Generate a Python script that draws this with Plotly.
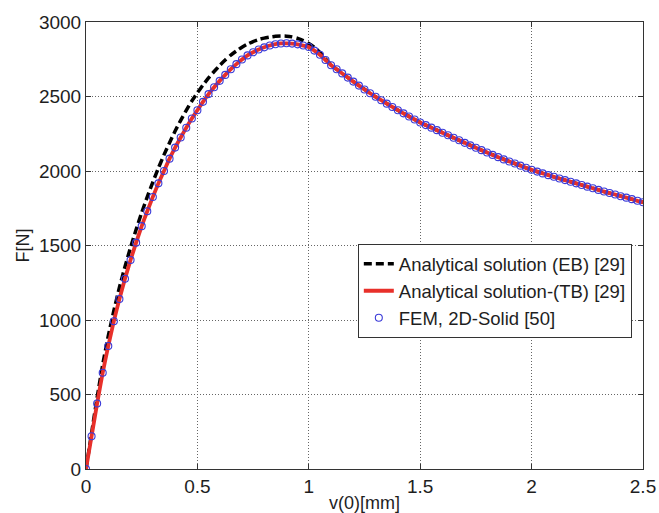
import plotly.graph_objects as go

# FEM sample positions (every 0.025 mm) and forces
fem_v = [round(i * 0.025, 3) for i in range(101)]
fem_force = [
    0, 220, 440, 646, 826, 992, 1141, 1277, 1403, 1519,
    1630, 1730, 1826, 1917, 2000, 2083, 2157, 2225, 2290, 2352,
    2408, 2464, 2516, 2562, 2605, 2645, 2683, 2717, 2748, 2776,
    2797, 2815, 2830, 2842, 2851, 2856, 2857, 2855, 2850, 2842,
    2832, 2808, 2780, 2745, 2710, 2683, 2655, 2627, 2600, 2573,
    2547, 2522, 2498, 2475, 2452, 2430, 2408, 2387, 2366, 2346,
    2326, 2308, 2291, 2274, 2257, 2240, 2223, 2206, 2189, 2172,
    2156, 2140, 2124, 2108, 2093, 2078, 2064, 2050, 2036, 2022,
    2008, 1996, 1984, 1972, 1961, 1950, 1939, 1928, 1917, 1906,
    1895, 1884, 1873, 1862, 1852, 1842, 1831, 1821, 1811, 1800,
    1790,
]

# Timoshenko beam analytical curve (coincides with FEM)
tb_v = list(fem_v)
tb_force = list(fem_force)

# Euler-Bernoulli analytical curve
eb_v = [
    0, 0.025, 0.05, 0.075, 0.1, 0.125, 0.15, 0.175, 0.2, 0.225,
    0.25, 0.275, 0.3, 0.325, 0.35, 0.375, 0.4, 0.425, 0.45, 0.475,
    0.5, 0.525, 0.55, 0.575, 0.6, 0.625, 0.65, 0.675, 0.7, 0.725,
    0.75, 0.775, 0.8, 0.825, 0.85, 0.875, 0.9, 0.925, 0.95, 0.975,
    1.0, 1.025, 1.05, 1.1, 1.2, 1.3, 1.4, 1.5, 1.6, 1.7,
    1.8, 1.9, 2.0, 2.1, 2.2, 2.3, 2.4, 2.5,
]
eb_force = [
    0, 240, 480, 700, 893, 1063, 1218, 1358, 1487, 1607,
    1721, 1826, 1926, 2020, 2108, 2190, 2268, 2340, 2407, 2470,
    2525, 2577, 2625, 2668, 2708, 2745, 2778, 2806, 2831, 2852,
    2869, 2882, 2892, 2899, 2904, 2906, 2905, 2900, 2890, 2875,
    2855, 2830, 2795, 2712, 2600, 2498, 2408, 2326, 2257, 2189,
    2124, 2064, 2008, 1961, 1917, 1873, 1831, 1790,
]

x_ticks = [0, 0.5, 1, 1.5, 2, 2.5]
x_tick_labels = ["0", "0.5", "1", "1.5", "2", "2.5"]
y_ticks = [0, 500, 1000, 1500, 2000, 2500, 3000]
y_tick_labels = ["0", "500", "1000", "1500", "2000", "2500", "3000"]

names = [
    "Analytical solution (EB) [29]",
    "Analytical solution-(TB) [29]",
    "FEM, 2D-Solid [50]",
]

FONT = "Liberation Sans, Arial, sans-serif"
TXT = "#1e1e1e"

fig = go.Figure()
fig.add_trace(go.Scatter(
    x=eb_v, y=eb_force, mode="lines", name=names[0],
    line=dict(color="black", width=3.5, dash="8px,4px", shape="spline", smoothing=0.5),
))
fig.add_trace(go.Scatter(
    x=tb_v, y=tb_force, mode="lines", name=names[1],
    line=dict(color="#e8302a", width=3.8, shape="spline", smoothing=0.5),
))
fig.add_trace(go.Scatter(
    x=fem_v, y=fem_force, mode="markers", name=names[2],
    marker=dict(symbol="circle-open", size=7, color="#3a3ad8", line=dict(width=1.1, color="#3a3ad8")),
))

axis_common = dict(
    showline=True, linecolor="#333333", linewidth=1, mirror="ticks",
    ticks="inside", ticklen=5, tickcolor="#333333",
    showgrid=True, gridcolor="#666666", gridwidth=1, griddash="1px,2px",
    zeroline=False, automargin=False,
    tickfont=dict(family=FONT, size=19, color=TXT),
)

fig.update_xaxes(range=[0, 2.5], tickvals=x_ticks, ticktext=x_tick_labels, **axis_common)
fig.update_yaxes(range=[0, 3000], tickvals=y_ticks, ticktext=y_tick_labels, **axis_common)

fig.update_layout(
    width=659, height=513,
    margin=dict(l=86, r=16, t=22, b=44, autoexpand=False),
    paper_bgcolor="white", plot_bgcolor="white",
    showlegend=True,
    legend=dict(
        x=0.488, y=0.503, xanchor="left", yanchor="top",
        bgcolor="white", bordercolor="#333333", borderwidth=1,
        font=dict(family=FONT, size=18.5, color=TXT),
        itemwidth=30, tracegroupgap=0,
    ),
    annotations=[
        dict(text="v(0)[mm]", xref="paper", yref="paper", x=0.5, y=0, yshift=-34,
             xanchor="center", yanchor="middle", showarrow=False,
             font=dict(family=FONT, size=18, color=TXT)),
        dict(text="F[N]", xref="paper", yref="paper", x=0, y=0.5, xshift=-64,
             xanchor="center", yanchor="middle", showarrow=False, textangle=-90,
             font=dict(family=FONT, size=18, color=TXT)),
    ],
)

# remove the page's default body margin so the 659x513 figure fills the window exactly
fig.write_html(
    "out.html",
    config={"displayModeBar": False},
    post_script="document.body.style.margin='0';document.body.style.overflow='hidden';",
)
